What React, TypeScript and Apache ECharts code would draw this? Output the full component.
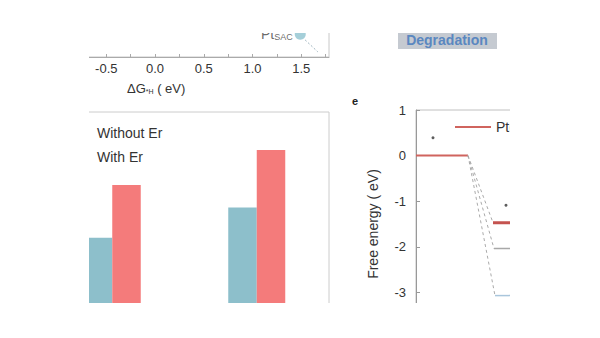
import React, { useEffect, useRef } from "react";
import * as echarts from "echarts";

// ---- top-left panel (ΔG*H scale) ----
const topTickValues = [-0.75, -0.5, -0.25, 0, 0.25, 0.5, 0.75, 1.0, 1.25, 1.5, 1.75];
const topLabelValues = [-0.5, 0, 0.5, 1.0, 1.5];
const ptSacPoint = [1.49, 0.4];
const ptSacGuide = [
  [1.54, 0.3],
  [1.67, 0.09],
];

// ---- bottom-left bar panel ----
const barCategories = ["Group 1", "Group 2"];
const withoutEr = [44.4, 57.7];
const withEr = [67.7, 83.2];

// ---- right panel (free energy) ----
const ptZeroLevel = [
  [0, 0],
  [5.2, 0],
];
const dashStartX = 5.2;
const levelStartX = [7.7, 7.8, 7.9];
const levelValues = [-1.47, -2.04, -3.07];
const levelEndX = 11;
const asteriskPoints = [
  [1.7, 0.39],
  [9.0, -1.09],
];
const energyTicks = [1, 0, -1, -2, -3];

const FONT = 'Arial, "Liberation Sans", sans-serif';
const TEAL = "#8dbfcb";
const RED = "#f47b7b";

export default function App() {
  const ref = useRef<HTMLDivElement>(null);

  useEffect(() => {
    if (!ref.current) return;
    const chart = echarts.init(ref.current, undefined, { renderer: "svg" });
    const levelColors = ["#c4534f", "#a8a8a8", "#a9c6dc"];
    const levelWidths = [3, 1.5, 1.5];

    const option: any = {
      animation: false,
      textStyle: { fontFamily: FONT },
      grid: [
        { left: 80, right: 271, top: 0, bottom: 281, show: true, borderColor: "#c8c8c8", borderWidth: 1 },
        { left: 40, right: 271, top: 112, bottom: 0, show: true, borderColor: "#cccccc", borderWidth: 1 },
        { left: 416, right: 0, top: 110, height: 230, show: true, borderColor: "#c0c0c0", borderWidth: 1 },
      ],
      xAxis: [
        {
          gridIndex: 0,
          type: "value",
          min: -0.77,
          max: 1.785,
          splitLine: { show: false },
          axisLine: { lineStyle: { color: "#aaaaaa" } },
          axisTick: { inside: true, length: 3, customValues: topTickValues, lineStyle: { color: "#aaaaaa" } },
          axisLabel: {
            customValues: topLabelValues,
            formatter: (v: number) => v.toFixed(1),
            fontSize: 13,
            color: "#333",
            margin: 5,
          },
        },
        { gridIndex: 1, type: "category", data: barCategories, show: false },
        { gridIndex: 2, type: "value", min: 0, max: 18.4, show: false },
      ],
      yAxis: [
        { gridIndex: 0, type: "value", min: 0, max: 1, show: false },
        { gridIndex: 1, type: "value", min: 0, max: 100, show: false },
        {
          gridIndex: 2,
          type: "value",
          min: -4,
          max: 1,
          interval: 1,
          splitLine: { show: false },
          axisLine: { show: true, lineStyle: { color: "#999" } },
          axisTick: { show: true, inside: true, length: 4, lineStyle: { color: "#999" } },
          axisLabel: {
            fontSize: 13,
            color: "#333",
            margin: 10,
            customValues: energyTicks,
          },
          name: "Free energy ( eV)",
          nameLocation: "middle",
          nameGap: 36,
          nameTextStyle: { fontSize: 14, color: "#333" },
        },
      ],
      legend: [
        {
          data: ["Without Er", "With Er"],
          orient: "vertical",
          left: 70,
          top: 126,
          padding: 0,
          itemWidth: 12,
          itemHeight: 14,
          itemGap: 10,
          textStyle: { fontSize: 14, color: "#333", padding: [0, 0, 0, 10] },
        },
        {
          data: [{ name: "Pt(111)", icon: "rect" }],
          left: 455,
          top: 120,
          padding: 0,
          itemWidth: 36,
          itemHeight: 2,
          textStyle: { fontSize: 14, color: "#333" },
        },
      ],
      series: [
        {
          type: "scatter",
          xAxisIndex: 0,
          yAxisIndex: 0,
          data: [ptSacPoint],
          symbolSize: 11,
          itemStyle: { color: "#8ec3cf" },
          label: {
            show: true,
            position: "left",
            distance: 2,
            formatter: "{a|Pt}{b|SAC}",
            rich: {
              a: { fontSize: 14, color: "#444", fontFamily: FONT },
              b: { fontSize: 9, color: "#444", fontFamily: FONT, verticalAlign: "bottom", padding: [6, 0, 0, 0] },
            },
          },
        },
        {
          type: "line",
          xAxisIndex: 0,
          yAxisIndex: 0,
          data: ptSacGuide,
          symbol: "none",
          lineStyle: { color: "#9fb5bf", width: 1, type: [2, 2] },
        },
        {
          name: "Without Er",
          type: "bar",
          xAxisIndex: 1,
          yAxisIndex: 1,
          data: withoutEr,
          barWidth: 28.5,
          barGap: "0%",
          itemStyle: { color: TEAL },
        },
        {
          name: "With Er",
          type: "bar",
          xAxisIndex: 1,
          yAxisIndex: 1,
          data: withEr,
          barWidth: 28.5,
          barGap: "0%",
          itemStyle: { color: RED },
        },
        {
          name: "Pt(111)",
          type: "line",
          xAxisIndex: 2,
          yAxisIndex: 2,
          data: ptZeroLevel,
          symbol: "none",
          itemStyle: { color: "#d0645e" },
          lineStyle: { color: "#d0645e", width: 2 },
        },
        ...levelValues.map((v, i) => ({
          type: "line",
          xAxisIndex: 2,
          yAxisIndex: 2,
          data: [
            [dashStartX, 0],
            [levelStartX[i], v],
          ],
          symbol: "none",
          lineStyle: { color: "#aaaaaa", width: 1, type: [3, 3] },
        })),
        ...levelValues.map((v, i) => ({
          type: "line",
          xAxisIndex: 2,
          yAxisIndex: 2,
          data: [
            [levelStartX[i], v],
            [levelEndX, v],
          ],
          symbol: "none",
          lineStyle: { color: levelColors[i], width: levelWidths[i] },
        })),
        {
          type: "scatter",
          xAxisIndex: 2,
          yAxisIndex: 2,
          data: asteriskPoints,
          symbolSize: 3,
          itemStyle: { color: "#333" },
        },
      ],
      graphic: [
        {
          type: "rect",
          shape: { x: 398, y: 28, width: 99, height: 21 },
          style: { fill: "#c5cad1" },
        },
        {
          type: "text",
          x: 447,
          y: 40,
          style: {
            text: "Degradation",
            fill: "#5a87c0",
            font: `bold 14px ${FONT}`,
            textAlign: "center",
            textVerticalAlign: "middle",
          },
        },
        {
          type: "text",
          x: 355,
          y: 101,
          style: {
            text: "e",
            fill: "#222",
            font: `bold 11px ${FONT}`,
            textAlign: "center",
            textVerticalAlign: "middle",
          },
        },
        {
          type: "text",
          x: 127,
          y: 82,
          style: {
            text: "{a|ΔG}{b|*H}{a| ( eV)}",
            rich: {
              a: { fontSize: 13, fill: "#333", fontFamily: FONT },
              b: { fontSize: 7, fill: "#333", fontFamily: FONT, verticalAlign: "bottom", padding: [5, 0, 0, 0] },
            },
          },
        },
      ],
    };

    chart.setOption(option);
    return () => chart.dispose();
  }, []);

  return (
    <div style={{ position: "fixed", left: 0, top: 0, width: 600, height: 338, background: "#fff" }}>
      <div style={{ position: "absolute", left: 89, top: 33, width: 421, height: 270, overflow: "hidden" }}>
        <div ref={ref} style={{ position: "absolute", left: -89, top: -33, width: 600, height: 338 }} />
      </div>
    </div>
  );
}
